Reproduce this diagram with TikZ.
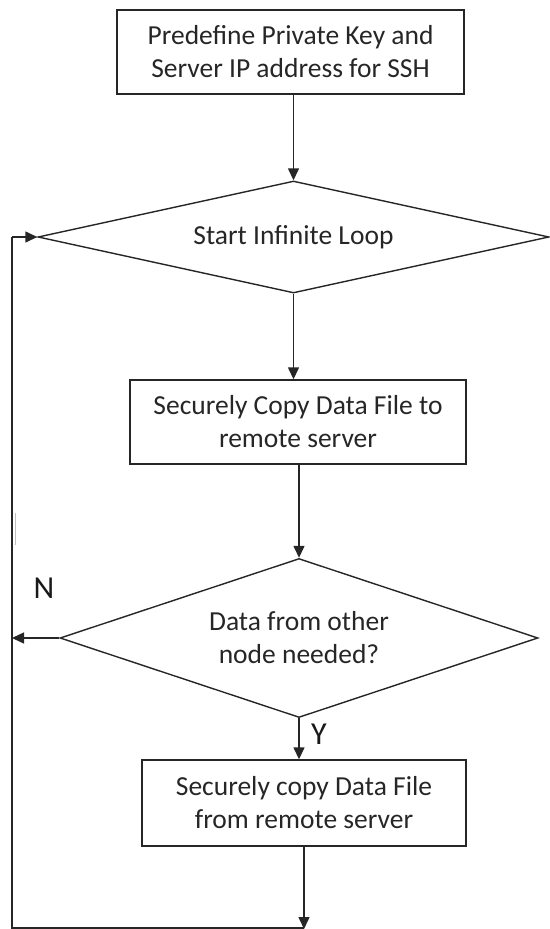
\documentclass[tikz,border=0pt]{standalone}
\usepackage{fontspec}
\setmainfont{Carlito}
\usetikzlibrary{shapes.geometric,arrows.meta}

\tikzset{
  line/.style={draw=black!85, line width=1.4pt},
  flow/.style={line, -{Triangle[length=12pt,width=11pt]}},
  stepbox/.style={line, rectangle, inner sep=0pt, align=center, text=black!85,
                  font=\fontsize{27.5}{33}\selectfont},
  decision/.style={line, diamond, inner sep=0pt, align=center, text=black!85,
                   font=\fontsize{27.5}{33}\selectfont},
  branch/.style={text=black!90, font=\fontsize{32}{34}\selectfont}
}

\begin{document}
\begin{tikzpicture}[x=1pt, y=-1pt]
  \useasboundingbox (0,0) rectangle (549,929);

  % process steps and decisions
  \node[stepbox, minimum width=347pt, minimum height=84pt] (setup) at (290.5,52)
    {Predefine Private Key and\\Server IP address for SSH};
  \node[decision, aspect=4.56, minimum width=511pt, minimum height=112pt] (loop) at (293.5,237)
    {Start Infinite Loop};
  \node[stepbox, minimum width=336pt, minimum height=84pt] (push) at (298,422)
    {Securely Copy Data File to\\remote server};
  \node[decision, aspect=3.0, minimum width=478pt, minimum height=159pt] (ask) at (299,638)
    {Data from other\\node needed?};
  \node[stepbox, minimum width=324pt, minimum height=86pt] (pull) at (304,803)
    {Securely copy Data File\\from remote server};

  % return path along the left edge
  \coordinate (corner) at (12,928);

  % main flow
  \draw[flow] (loop.north |- setup.south) -- (loop.north);
  \draw[flow] (loop.south) -- (push.north -| loop.south);
  \draw[flow] (ask.north |- push.south) -- (ask.north);
  \draw[flow] (ask.south) -- (pull.north -| ask.south);
  \draw[flow] (pull.south) -- ([yshift=-1pt]pull.south |- corner);

  % loop back to the start
  \draw[line] (pull.south |- corner) -- (corner) -- (corner |- loop.west);
  \draw[flow] (corner |- loop.west) -- (loop.west);
  \draw[flow] (ask.west) -- (corner |- ask.west);

  % branch labels
  \node[branch] (no) at (44,588) {N};
  \node[branch] (yes) at (319,734) {Y};

  % faint stray stroke beside the return line
  \draw[black!25, line width=1pt] (15,513) -- (15,545);
\end{tikzpicture}
\end{document}
